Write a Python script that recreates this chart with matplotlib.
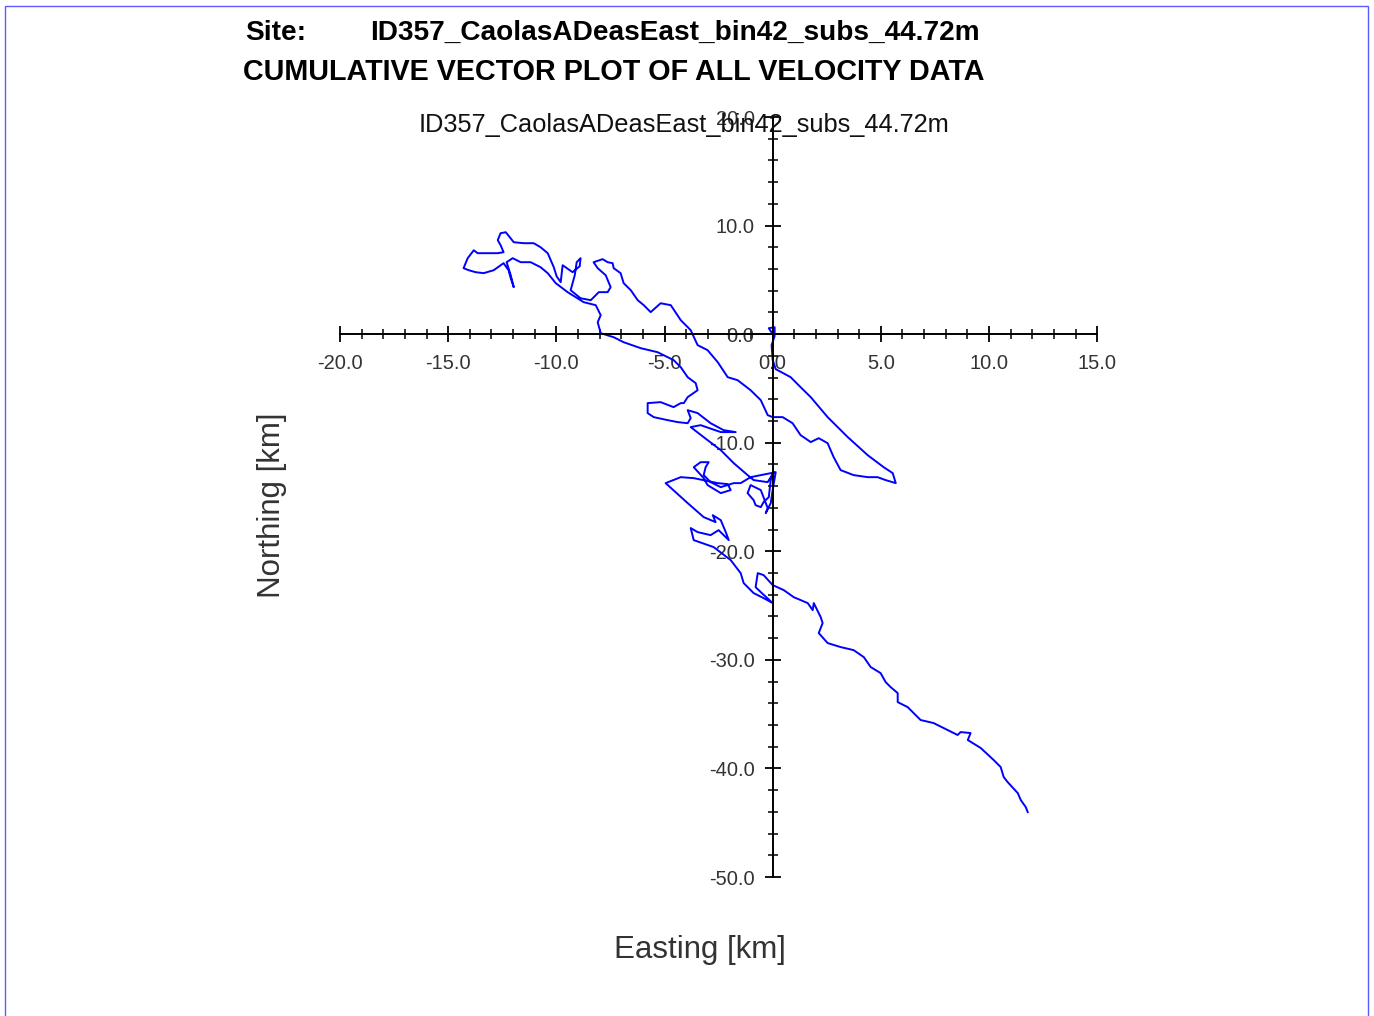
import numpy as np
import matplotlib
matplotlib.use("Agg")
from matplotlib import pyplot as plt
from matplotlib.ticker import MultipleLocator, FormatStrFormatter
from matplotlib.patches import Rectangle

plt.rcParams['font.family'] = ['Liberation Sans', 'DejaVu Sans']

site = 'ID357_CaolasADeasEast_bin42_subs_44.72m'
heading = 'CUMULATIVE VECTOR PLOT OF ALL VELOCITY DATA'

# cumulative displacement, km
easting = [
    0.0, -0.18, 0.09, 0.09, -0.05, 0.0, 0.14, 0.83, 1.29, 1.76, 2.54, 3.47, 4.39, 5.13, 5.55, 5.69,
    5.22, 4.85, 4.39, 3.74, 3.14, 2.82, 2.54, 2.13, 1.76, 1.29, 0.92, 0.46, 0.0, -0.23, -0.55, -1.02,
    -1.62, -2.08, -2.54, -3.01, -3.47, -3.79, -4.25, -4.71, -5.18, -5.64, -5.96, -6.24, -6.56, -6.89,
    -7.03, -7.35, -7.40, -7.63, -7.86, -8.28, -8.09, -7.72, -7.49, -7.63, -8.04, -8.41, -8.88, -9.34,
    -9.15, -9.06, -8.88, -8.92, -9.25, -9.52, -9.71, -9.80, -9.99, -10.12, -10.40, -10.73, -11.05,
    -11.51, -11.97, -12.34, -12.58, -12.71, -12.58, -12.44, -12.71, -13.64, -13.82, -14.10, -14.29,
    -14.05, -13.73, -13.36, -12.90, -12.44, -12.21, -12.11, -11.97, -12.11, -12.30, -12.02, -11.65,
    -11.19, -10.73, -10.40, -10.03, -9.48, -8.74, -8.18, -7.95, -8.09, -7.95, -7.35, -6.89, -6.10,
    -5.32, -4.58, -4.25, -3.93, -3.56, -3.47, -3.93, -4.11, -4.25, -4.58, -5.18, -5.78, -5.78, -5.50,
    -4.85, -4.39, -3.93, -3.79, -3.93, -3.47, -2.87, -2.27, -1.71, -2.40, -3.33, -3.79, -3.01, -2.40,
    -1.80, -1.16, -0.88, -0.23, -0.09, 0.05, -0.09, -0.18, -0.42, -0.55, -0.79, -0.88, -1.16, -1.02,
    -0.55, -0.23, -0.32, -0.09, 0.0, 0.14, -0.55, -1.02, -1.48, -1.80, -2.40, -2.87, -3.19, -3.10,
    -2.96, -3.33, -3.65, -3.19, -3.01, -2.40, -1.94, -2.08, -2.54, -3.65, -4.25, -4.95, -3.93, -3.19,
    -2.64, -2.77, -2.40, -2.17, -2.03, -2.50, -2.87, -3.47, -3.79, -3.65, -2.73, -1.94, -1.48, -1.34,
    -0.88, -0.42, 0.0, -0.55, -0.79, -0.69, -0.42, 0.0, 0.51, 0.97, 1.62, 1.85, 1.90, 2.22, 2.31,
    2.13, 2.54, 3.14, 3.74, 4.21, 4.53, 4.99, 5.22, 5.45, 5.78, 5.78, 6.24, 6.84, 7.44, 8.09, 8.55,
    8.69, 9.15, 9.02, 9.62, 10.22, 10.54, 10.68, 10.86, 11.33, 11.47, 11.70, 11.79,
]
northing = [
    0.0, 0.55, 0.64, -0.18, -1.01, -2.39, -3.22, -3.96, -4.88, -5.80, -7.64, -9.48, -11.14, -12.25,
    -12.80, -13.72, -13.44, -13.17, -13.17, -12.98, -12.52, -11.33, -10.04, -9.58, -9.94, -9.30,
    -8.20, -7.64, -7.64, -7.46, -6.08, -5.16, -4.24, -3.96, -2.58, -1.47, -1.01, 0.37, 1.29, 2.67,
    2.85, 2.03, 2.67, 3.13, 4.05, 4.70, 5.62, 6.08, 6.54, 6.63, 6.91, 6.63, 6.08, 5.43, 4.33, 3.87,
    3.87, 3.13, 3.31, 4.05, 5.43, 6.63, 7.00, 6.26, 5.71, 6.08, 6.35, 4.79, 5.34, 6.17, 7.46, 8.01,
    8.38, 8.38, 8.47, 9.39, 9.30, 8.66, 8.20, 7.55, 7.46, 7.46, 7.73, 7.00, 6.08, 5.89, 5.71, 5.62,
    5.89, 6.54, 5.89, 5.16, 4.33, 5.43, 6.63, 7.00, 6.63, 6.63, 6.17, 5.62, 4.70, 3.87, 2.95, 2.67,
    1.75, 1.10, 0.09, -0.28, -0.74, -1.29, -1.66, -2.39, -3.04, -3.96, -4.51, -5.16, -5.80, -6.35,
    -6.35, -6.72, -6.26, -6.35, -7.27, -7.64, -7.92, -8.10, -8.20, -7.73, -7.00, -7.27, -8.20, -8.84,
    -9.02, -9.02, -8.38, -8.56, -9.76, -10.68, -11.88, -12.98, -13.44, -13.63, -13.17, -12.71, -13.44,
    -15.01, -15.47, -15.93, -15.75, -15.29, -14.64, -13.90, -14.36, -16.02, -16.48, -15.56, -14.36,
    -12.71, -12.98, -13.17, -13.72, -13.72, -14.09, -13.63, -12.98, -12.25, -11.79, -11.79, -12.25,
    -13.26, -13.90, -14.64, -14.36, -13.81, -13.72, -13.26, -13.17, -13.72, -15.56, -16.85, -17.31,
    -16.67, -17.13, -18.23, -18.97, -18.05, -18.51, -18.23, -17.86, -18.97, -19.61, -20.81, -22.01,
    -22.93, -23.85, -24.31, -24.77, -23.76, -23.30, -22.01, -22.19, -23.11, -23.57, -24.22, -24.77,
    -25.42, -24.77, -26.06, -26.61, -27.53, -28.45, -28.82, -29.10, -29.74, -30.66, -31.22, -32.04,
    -32.50, -33.06, -33.89, -34.35, -35.54, -35.82, -36.46, -36.92, -36.65, -36.74, -37.38, -38.12,
    -39.23, -39.87, -40.79, -41.25, -42.27, -42.91, -43.56, -44.02,
]

fig = plt.figure(figsize=(13.74, 10.16), dpi=100)
ax = fig.add_axes([0.2475, 0.1368, 0.551, 0.748])

ax.plot(easting, northing, color='#0000ff', lw=1.4)

ax.set_xlim(-20, 15)
ax.set_ylim(-50, 20)
for s in ['top', 'right']:
    ax.spines[s].set_visible(False)
ax.spines['left'].set_position(('data', 0))
ax.spines['bottom'].set_position(('data', 0))
for s in ['left', 'bottom']:
    ax.spines[s].set_linewidth(1.4)

ax.xaxis.set_major_locator(MultipleLocator(5))
ax.xaxis.set_minor_locator(MultipleLocator(1))
ax.yaxis.set_major_locator(MultipleLocator(10))
ax.yaxis.set_minor_locator(MultipleLocator(2))
ax.xaxis.set_major_formatter(FormatStrFormatter('%.1f'))
ax.yaxis.set_major_formatter(FormatStrFormatter('%.1f'))
ax.tick_params(which='major', direction='inout', length=11, width=1.3,
               labelsize=14.5, labelcolor='#333333')
ax.tick_params(which='minor', direction='inout', length=7, width=1.1)
ax.tick_params(axis='x', which='major', pad=8.5)
ax.tick_params(axis='y', which='major', pad=7.5)

fig.text(0.498, 1 - 125 / 1016, site, ha='center', va='center', fontsize=18.3, color='#111111')
fig.text(245 / 1374, 1 - 33 / 1016, 'Site:', ha='left', va='center', fontsize=20.2, fontweight='bold')
fig.text(370 / 1374, 1 - 33 / 1016, site, ha='left', va='center', fontsize=20.2, fontweight='bold')
fig.text(243 / 1374, 1 - 72 / 1016, heading, ha='left', va='center', fontsize=20.7, fontweight='bold')

fig.text(700 / 1374, 1 - 950 / 1016, 'Easting [km]', ha='center', va='center',
         fontsize=22.5, color='#333333')
fig.text(272 / 1374, 1 - 505 / 1016, 'Northing [km]', ha='center', va='center',
         rotation=90, fontsize=22.5, color='#333333')

fig.add_artist(Rectangle((5 / 1374, -0.01), 1363 / 1374, 1.01 - 6 / 1016,
                         transform=fig.transFigure, fill=False, edgecolor='#5a5aff', lw=1))

fig.savefig('out.png', dpi=100)
